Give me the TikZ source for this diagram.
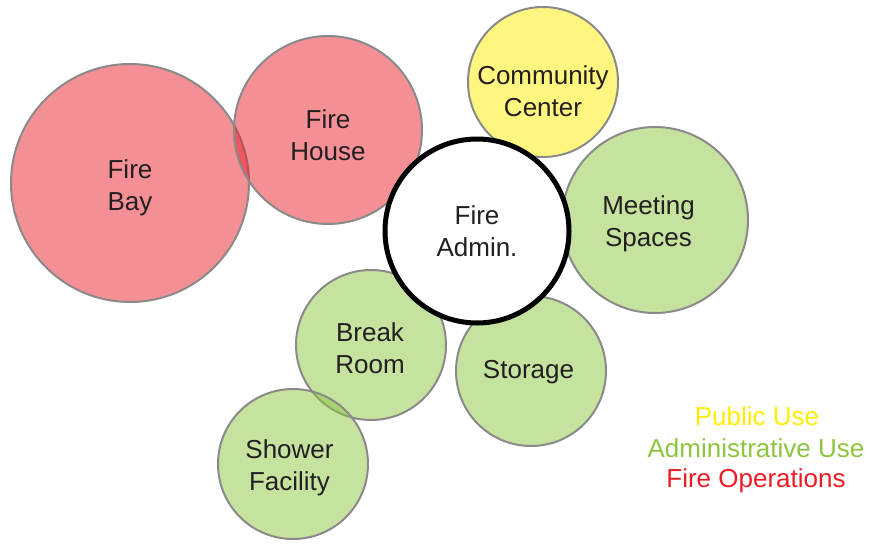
\documentclass[tikz,border=0pt]{standalone}
\usepackage{fontspec}
\setmainfont{Liberation Sans}
\definecolor{opsred}{RGB}{233,32,43}
\definecolor{legred}{RGB}{237,28,36}
\definecolor{admgreen}{RGB}{140,198,63}
\definecolor{pubyellow}{RGB}{255,237,0}
\definecolor{ringgray}{RGB}{138,138,138}
\definecolor{txtdark}{RGB}{35,31,32}
\begin{document}
\begin{tikzpicture}[x=1pt,y=-1pt,
  txt/.style={text=txtdark,align=center,inner sep=0pt,font=\fontsize{26}{32}\selectfont},
  bubble/.style={circle,draw=ringgray,line width=2pt,fill opacity=0.5,text opacity=1,inner sep=0pt},
  ops/.style={bubble,fill=opsred},
  adm/.style={bubble,fill=admgreen},
  pub/.style={bubble,fill=pubyellow},
  core/.style={circle,draw=black,line width=5pt,fill=white,inner sep=0pt},
  legend/.style={anchor=center,font=\fontsize{26}{32}\selectfont}]
\useasboundingbox (0,0) rectangle (870,544);
% zones, drawn translucent so overlaps show darker
\node[ops,minimum size=238] (bay) at (130,183) {};
\node[ops,minimum size=188] (house) at (328,130) {};
\node[pub,minimum size=150] (comm) at (543,82) {};
\node[adm,minimum size=186] (meet) at (655,220) {};
\node[adm,minimum size=150] (break) at (371,345) {};
\node[adm,minimum size=150] (stor) at (531,371) {};
\node[adm,minimum size=150] (shower) at (293,464) {};
\node[core,minimum size=184] (admin) at (477,231) {};
% zone names
\node[txt,yshift=-5pt] (tbay) at (bay) {Fire\\Bay};
\node[txt,yshift=-5.5pt] (thouse) at (house) {Fire\\House};
\node[txt,yshift=-9.5pt] (tcomm) at (comm) {Community\\Center};
\node[txt,xshift=-6.5pt,yshift=-3.5pt] (tmeet) at (meet) {Meeting\\Spaces};
\node[txt,xshift=-1pt,yshift=-3pt] (tbreak) at (break) {Break\\Room};
\node[txt,xshift=-2.5pt,yshift=-1.5pt] (tstor) at (stor) {Storage};
\node[txt,xshift=-3.5pt,yshift=-4pt] (tshower) at (shower) {Shower\\Facility};
\node[txt] (tadmin) at (admin) {Fire\\Admin.};
% key
\node[legend,text=pubyellow] (lpub) at (757,416) {Public Use};
\node[legend,text=admgreen] (ladm) at (756,448) {Administrative Use};
\node[legend,text=legred] (lops) at (756,481) {Fire Operations};
\end{tikzpicture}
\end{document}
